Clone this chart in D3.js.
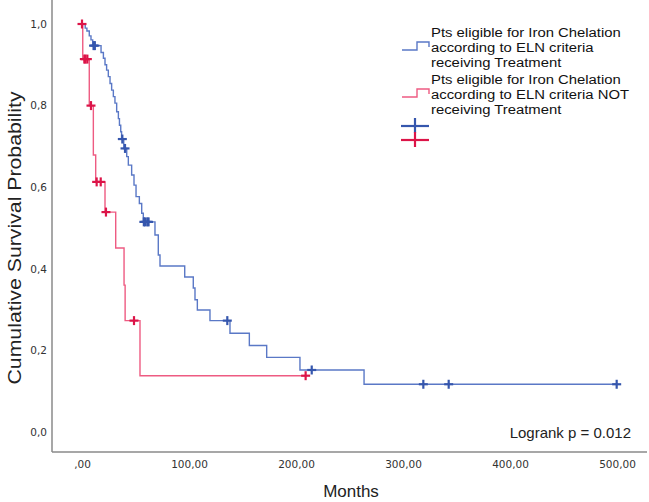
<!DOCTYPE html>
<html><head><meta charset="utf-8">
<script src="https://cdn.jsdelivr.net/npm/d3@7"></script>
<style>
html,body{margin:0;padding:0;background:#fff;}
svg{display:block;}
</style>
</head><body>
<svg id="chart" width="649" height="502"></svg>
<script>
// ---- data ----
const blueEventTimes = [3, 4.6, 6.8, 8.4, 10, 17.8, 20, 21.5, 23, 24.6, 26.2, 27.7, 29.3, 30.8, 32.4, 34, 35, 36.2, 37, 39, 41.8, 43.3, 46.4, 48.6, 50.5, 53.6, 55.8, 57.3, 68.2, 71.3, 72.9, 96, 104, 105.6, 107.8, 119.6, 138.3, 156.4, 172.6, 203.7, 263.6];
const blueEventSurv  = [0.99, 0.983, 0.971, 0.961, 0.947, 0.93, 0.916, 0.9, 0.887, 0.871, 0.854, 0.838, 0.822, 0.806, 0.785, 0.768, 0.752, 0.736, 0.718, 0.695, 0.675, 0.654, 0.63, 0.605, 0.577, 0.56, 0.536, 0.515, 0.483, 0.434, 0.407, 0.38, 0.353, 0.324, 0.299, 0.273, 0.242, 0.212, 0.183, 0.152, 0.117];
const blueCensorTimes = [10.8, 12, 37.7, 40.2, 57.8, 59, 61, 62.2, 135.8, 214.7, 319, 342.7, 499.7];

const redEventTimes = [0.7, 6.8, 10.6, 12.8, 21.5, 31.5, 39.3, 40.3, 54.2];
const redEventSurv  = [0.914, 0.80, 0.679, 0.613, 0.539, 0.451, 0.36, 0.273, 0.138];
const redCensorTimes = [0, 2.2, 3.2, 5, 8.4, 13.7, 17.5, 22.4, 48.6, 209];

const xTickValues = [0, 100, 200, 300, 400, 500];
const xTickLabels = [",00", "100,00", "200,00", "300,00", "400,00", "500,00"];
const yTickValues = [0, 0.2, 0.4, 0.6, 0.8, 1.0];
const yTickLabels = ["0,0", "0,2", "0,4", "0,6", "0,8", "1,0"];

const legendBlue = ["Pts eligible for Iron Chelation", "according to ELN criteria", "receiving Treatment"];
const legendRed  = ["Pts eligible for Iron Chelation", "according to ELN criteria NOT", "receiving Treatment"];
const xTitle = "Months";
const yTitle = "Cumulative Survival Probability";
const annotation = "Logrank p = 0.012";

// ---- styles ----
const BLUE_LINE = "#5a78c6", BLUE_MARK = "#3556ad";
const RED_LINE = "#ee5b82", RED_MARK = "#dc1448";
const AXIS = "#8a8a8a";
const SANS = "'Liberation Sans', Arial, sans-serif";
const TICKF = "'DejaVu Sans', Verdana, sans-serif";

const svg = d3.select("#chart");
const x = d3.scaleLinear().domain([0, 500]).range([82, 617]);
const y = d3.scaleLinear().domain([0, 1]).range([432, 24]);

// frame
svg.append("line").attr("x1", 52).attr("x2", 52).attr("y1", 0).attr("y2", 452)
  .attr("stroke", AXIS).attr("stroke-width", 1.5);
svg.append("line").attr("x1", 52).attr("x2", 647).attr("y1", 452).attr("y2", 452)
  .attr("stroke", AXIS).attr("stroke-width", 1.5);

// axes (labels only)
const yAxis = svg.append("g").attr("transform", "translate(52,0)")
  .call(d3.axisLeft(y).tickValues(yTickValues).tickSize(0).tickPadding(5)
    .tickFormat((d, i) => yTickLabels[i]));
yAxis.select(".domain").remove();
yAxis.selectAll("text").attr("font-family", TICKF).attr("font-size", 10.5).attr("fill", "#333");

const xAxis = svg.append("g").attr("transform", "translate(0,452)")
  .call(d3.axisBottom(x).tickValues(xTickValues).tickSize(0).tickPadding(9)
    .tickFormat((d, i) => xTickLabels[i]));
xAxis.select(".domain").remove();
xAxis.selectAll("text").attr("font-family", TICKF).attr("font-size", 10.5).attr("fill", "#333");

// titles
svg.append("text").attr("x", 351).attr("y", 497).attr("text-anchor", "middle")
  .attr("font-family", SANS).attr("font-size", 17).attr("fill", "#222").text(xTitle);
svg.append("text").attr("transform", "translate(21,238) rotate(-90) scale(1.12,1)").attr("text-anchor", "middle")
  .attr("font-family", SANS).attr("font-size", 19).attr("fill", "#222").text(yTitle);

svg.append("text").attr("x", 631).attr("y", 438).attr("text-anchor", "end")
  .attr("font-family", SANS).attr("font-size", 15).attr("fill", "#222").text(annotation);

// curves
function stepPoints(times, surv, endT) {
  const pts = [[0, 1]];
  times.forEach((t, i) => pts.push([t, surv[i]]));
  pts.push([endT, surv[surv.length - 1]]);
  return pts;
}
function survAt(times, surv, t) {
  let s = 1;
  times.forEach((tt, i) => { if (tt <= t) s = surv[i]; });
  return s;
}
const line = d3.line().x(d => x(d[0])).y(d => y(d[1])).curve(d3.curveStepAfter);

const groups = [
  {times: blueEventTimes, surv: blueEventSurv, cens: blueCensorTimes, line: BLUE_LINE, mark: BLUE_MARK},
  {times: redEventTimes, surv: redEventSurv, cens: redCensorTimes, line: RED_LINE, mark: RED_MARK}
];
groups.forEach(g => {
  const endT = d3.max(g.cens.concat(g.times));
  svg.append("path").datum(stepPoints(g.times, g.surv, endT))
    .attr("d", line).attr("fill", "none").attr("stroke", g.line).attr("stroke-width", 1.4);
  const cg = svg.append("g");
  g.cens.forEach(t => {
    const cx = x(t), cy = y(survAt(g.times, g.surv, t));
    cg.append("line").attr("x1", cx - 4.5).attr("x2", cx + 4.5).attr("y1", cy).attr("y2", cy)
      .attr("stroke", g.mark).attr("stroke-width", 2.2);
    cg.append("line").attr("x1", cx).attr("x2", cx).attr("y1", cy - 4.5).attr("y2", cy + 4.5)
      .attr("stroke", g.mark).attr("stroke-width", 2.2);
  });
});

// legend
const lg = svg.append("g");
function legendStep(y0, color) {
  const pts = [[402, y0 + 4], [417, y0 + 4], [417, y0 - 4], [429, y0 - 4], [429, y0 + 1]];
  lg.append("path").attr("d", d3.line()(pts)).attr("fill", "none").attr("stroke", color).attr("stroke-width", 1.4);
}
legendStep(46, BLUE_LINE);
legendStep(93, RED_LINE);
function legendText(lines, y0) {
  lines.forEach((t, i) => lg.append("text")
    .attr("transform", `translate(431,${y0 + i * 15}) scale(1.1,1)`)
    .attr("font-family", SANS).attr("font-size", 13.5).attr("fill", "#111").text(t));
}
legendText(legendBlue, 37);
legendText(legendRed, 84);
function legendCross(cy, color) {
  lg.append("line").attr("x1", 401).attr("x2", 429).attr("y1", cy).attr("y2", cy).attr("stroke", color).attr("stroke-width", 2.2);
  lg.append("line").attr("x1", 415).attr("x2", 415).attr("y1", cy - 8).attr("y2", cy + 7).attr("stroke", color).attr("stroke-width", 2.2);
}
legendCross(126, BLUE_MARK);
legendCross(140, RED_MARK);
</script>
</body></html>
